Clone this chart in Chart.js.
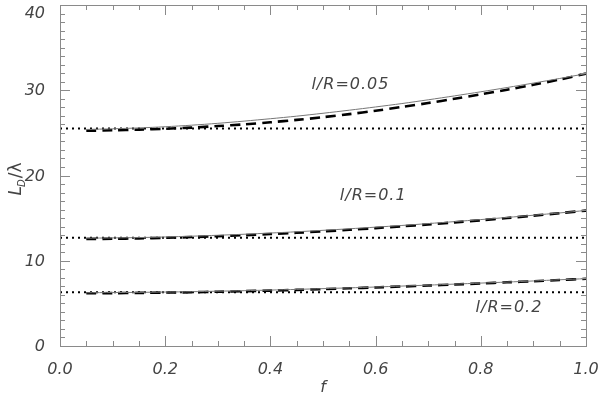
<!DOCTYPE html>
<html>
<head>
<meta charset="utf-8">
<script src="https://cdn.jsdelivr.net/npm/chart.js@4.4.1/dist/chart.umd.min.js"></script>
<style>
html, body { margin: 0; padding: 0; background: #fff; }
#wrap { width: 600px; height: 399px; }
</style>
</head>
<body>
<div id="wrap"><canvas id="c"></canvas></div>
<script>
// f values where the curves were sampled
var fVals = [0.05, 0.10, 0.15, 0.20, 0.25, 0.30, 0.35, 0.40, 0.45, 0.50,
             0.55, 0.60, 0.65, 0.70, 0.75, 0.80, 0.85, 0.90, 0.95, 1.00];

// l/R = 0.05
var solid005 = [25.40, 25.48, 25.58, 25.72, 25.90, 26.12, 26.38, 26.66, 26.96, 27.30,
                27.66, 28.04, 28.44, 28.88, 29.34, 29.82, 30.32, 30.84, 31.38, 31.95];
var dashed005 = [25.25, 25.30, 25.38, 25.48, 25.62, 25.80, 26.00, 26.24, 26.52, 26.84,
                 27.20, 27.60, 28.04, 28.50, 29.00, 29.52, 30.06, 30.64, 31.26, 31.95];
var level005 = 25.5;

// l/R = 0.1
var solid01 = [12.65, 12.68, 12.72, 12.79, 12.88, 12.99, 13.11, 13.25, 13.40, 13.57,
               13.75, 13.94, 14.14, 14.36, 14.59, 14.83, 15.08, 15.34, 15.61, 15.90];
var dashed01 = [12.55, 12.58, 12.62, 12.69, 12.78, 12.88, 13.00, 13.13, 13.28, 13.45,
                13.63, 13.83, 14.04, 14.26, 14.50, 14.75, 15.01, 15.29, 15.58, 15.88];
var level01 = 12.7;

// l/R = 0.2
var solid02 = [6.25, 6.27, 6.29, 6.33, 6.37, 6.43, 6.49, 6.56, 6.64, 6.73,
               6.82, 6.92, 7.03, 7.14, 7.26, 7.38, 7.50, 7.63, 7.77, 7.90];
var dashed02 = [6.18, 6.20, 6.23, 6.27, 6.31, 6.37, 6.43, 6.50, 6.58, 6.67,
                6.77, 6.87, 6.98, 7.10, 7.22, 7.34, 7.47, 7.60, 7.74, 7.88];
var level02 = 6.3;

var curveLabels = ['l/R=0.05', 'l/R=0.1', 'l/R=0.2'];

var xTicks = [0, 0.2, 0.4, 0.6, 0.8, 1.0];
var yTicks = [0, 10, 20, 30, 40];

function pts(ys) {
	var out = [];
	for (var i = 0; i < fVals.length; i++) {
		out.push({x: fVals[i], y: ys[i]});
	}
	return out;
}
function flat(v) {
	return [{x: 0, y: v}, {x: 1, y: v}];
}

var FONT = "'DejaVu Sans', sans-serif";
var TXT = '#444';
var AXIS = '#8a8a8a';

function solidSet(ys) {
	return {data: pts(ys), borderColor: '#777', borderWidth: 1, pointRadius: 0, tension: 0.3, order: 0};
}
function dashedSet(ys) {
	return {data: pts(ys), borderColor: '#000', borderWidth: 2.6, borderDash: [10, 6], pointRadius: 0, tension: 0.3, order: 1};
}
function dottedSet(v) {
	return {data: flat(v), borderColor: '#000', borderWidth: 2, borderDash: [2, 4], pointRadius: 0, order: 2};
}

var frame = {
	id: 'frame',
	afterDraw: function(chart) {
		var ctx = chart.ctx;
		var a = chart.chartArea;
		var xs = chart.scales.x, ys = chart.scales.y;
		ctx.save();
		ctx.strokeStyle = AXIS;
		ctx.lineWidth = 1;
		ctx.strokeRect(Math.round(a.left) + 0.5, Math.round(a.top) + 0.5,
			Math.round(a.right - a.left), Math.round(a.bottom - a.top));

		ctx.beginPath();
		// x ticks, inward on bottom and top
		for (var k = 0; k <= 20; k++) {
			var px = Math.round(xs.getPixelForValue(k * 0.05)) + 0.5;
			var len = (k % 4 === 0) ? 10 : 5;
			ctx.moveTo(px, a.bottom); ctx.lineTo(px, a.bottom - len);
			ctx.moveTo(px, a.top); ctx.lineTo(px, a.top + len);
		}
		// y ticks, inward on left and right
		for (var j = 0; j <= 40; j++) {
			var py = Math.round(ys.getPixelForValue(j)) + 0.5;
			var ln = (j % 10 === 0) ? 10 : 5;
			ctx.moveTo(a.left, py); ctx.lineTo(a.left + ln, py);
			ctx.moveTo(a.right, py); ctx.lineTo(a.right - ln, py);
		}
		ctx.stroke();

		// curve labels
		ctx.fillStyle = TXT;
		ctx.font = 'italic 16px ' + FONT;
		ctx.letterSpacing = '1px';
		ctx.textBaseline = 'middle';
		ctx.textAlign = 'left';
		ctx.fillText(curveLabels[0], xs.getPixelForValue(0.478), ys.getPixelForValue(30.6));
		ctx.fillText(curveLabels[1], xs.getPixelForValue(0.532), ys.getPixelForValue(17.6));
		ctx.fillText(curveLabels[2], xs.getPixelForValue(0.79), ys.getPixelForValue(4.5));

		// y title L_D/lambda, rotated
		ctx.letterSpacing = '0px';
		ctx.translate(17, (a.top + a.bottom) / 2);
		ctx.rotate(-Math.PI / 2);
		ctx.font = 'italic 17px ' + FONT;
		var x0 = -20;
		ctx.fillText('L', x0, 0);
		var wL = ctx.measureText('L').width;
		ctx.font = 'italic 10px ' + FONT;
		ctx.fillText('D', x0 + wL - 1, 5);
		var wD = ctx.measureText('D').width;
		ctx.font = '17px ' + FONT;
		ctx.fillText('/\u03bb', x0 + wL + wD, 0);
		ctx.restore();
	}
};

new Chart(document.getElementById('c'), {
	type: 'line',
	data: {
		datasets: [
			dottedSet(level005), dottedSet(level01), dottedSet(level02),
			dashedSet(dashed005), dashedSet(dashed01), dashedSet(dashed02),
			solidSet(solid005), solidSet(solid01), solidSet(solid02)
		]
	},
	options: {
		responsive: true,
		maintainAspectRatio: false,
		animation: false,
		layout: {padding: {top: 5, right: 14, left: 0, bottom: 2}},
		plugins: {legend: {display: false}, tooltip: {enabled: false}},
		scales: {
			x: {
				type: 'linear', min: 0, max: 1,
				afterFit: function(s) { s.height = 51; s.paddingLeft = 0; s.paddingRight = 0; },
				afterBuildTicks: function(s) { s.ticks = xTicks.map(function(v) { return {value: v}; }); },
				grid: {display: false},
				border: {display: false},
				ticks: {
					color: TXT, padding: 6, maxRotation: 0,
					font: {family: FONT, style: 'italic', size: 16},
					callback: function(v) { return v.toFixed(1); }
				},
				title: {display: true, text: 'f', color: TXT, padding: 0,
					font: {family: FONT, style: 'italic', size: 16}}
			},
			y: {
				type: 'linear', min: 0, max: 40,
				afterFit: function(s) { s.width = 60; s.paddingTop = 0; s.paddingBottom = 0; },
				afterBuildTicks: function(s) { s.ticks = yTicks.map(function(v) { return {value: v}; }); },
				grid: {display: false},
				border: {display: false},
				ticks: {
					color: TXT, padding: 7, labelOffset: 1,
					font: {family: FONT, style: 'italic', size: 16, lineHeight: 1},
					callback: function(v) { return v === 40 ? ['', '40'] : String(v); }
				}
			}
		}
	},
	plugins: [frame]
});
</script>
</body>
</html>
